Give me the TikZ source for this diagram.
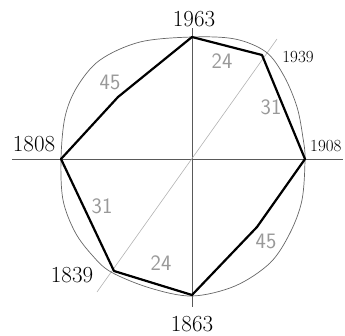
\documentclass[tikz,border=0pt]{standalone}
\begin{document}
\begin{tikzpicture}[x=1pt,y=-1pt,
  yearlab/.style={inner sep=0pt,font=\fontsize{23}{23}\selectfont},
  numlab/.style={inner sep=0pt,text=black!40,font=\sffamily\fontsize{22}{22}\selectfont},
  axis/.style={draw=black!65,line width=0.9pt},
  diag/.style={draw=black!30,line width=0.6pt},
  rim/.style={draw=black!60,line width=0.7pt},
  poly/.style={draw=black,line width=2.2pt,line join=round}]
\useasboundingbox (0,0) rectangle (345,335);
% axes
\coordinate (c) at (192,159);
\coordinate (hl) at (12,159);
\coordinate (hr) at (343,159);
\coordinate (vt) at (192,28);
\coordinate (vb) at (192,307);
\coordinate (dl) at (97,292);
\coordinate (dr) at (277,39);
\draw[axis] (hl) -- (hr);
\draw[axis] (vt) -- (vb);
\draw[diag] (dl) -- (dr);
% rim curve
\draw[rim] plot[smooth cycle,tension=0.55] coordinates {
 (192,37) (235,39) (266,52) (284,76) (297,107) (303,138) (305,159)
 (302,200) (290,233) (270,263) (235,286) (192,296)
 (150,288) (111,272) (92,255) (75,232) (63,200) (61,159)
 (65,117) (77,87) (100,60) (140,42)};
% polygon vertices
\coordinate (p1963) at (192,37);
\coordinate (p1939) at (262,55);
\coordinate (p1908) at (305,159);
\coordinate (k1) at (257,227);
\coordinate (p1863) at (192,295);
\coordinate (p1839) at (114,271);
\coordinate (p1808) at (61,159);
\coordinate (k2) at (118,97);
\draw[poly] (p1963) -- (p1939) -- (p1908) -- (k1) -- (p1863) -- (p1839) -- (p1808) -- (k2) -- cycle;
% year labels
\node[yearlab] (y1963) at (194,19) {1963};
\node[yearlab,font=\fontsize{17}{17}\selectfont] (y1939) at (298,57) {1939};
\node[yearlab,anchor=west,font=\fontsize{17}{17}\selectfont] (y1908) at (310,146) {1908};
\node[yearlab] (y1808) at (34,144) {1808};
\node[yearlab] (y1839) at (72,275) {1839};
\node[yearlab] (y1863) at (192,324) {1863};
% gray numbers
\node[numlab] (n24a) at (222,61) {24};
\node[numlab] (n31a) at (271,107) {31};
\node[numlab] (n45a) at (110,82) {45};
\node[numlab] (n31b) at (102,206) {31};
\node[numlab] (n24b) at (161,263) {24};
\node[numlab] (n45b) at (266,241) {45};
\end{tikzpicture}
\end{document}
